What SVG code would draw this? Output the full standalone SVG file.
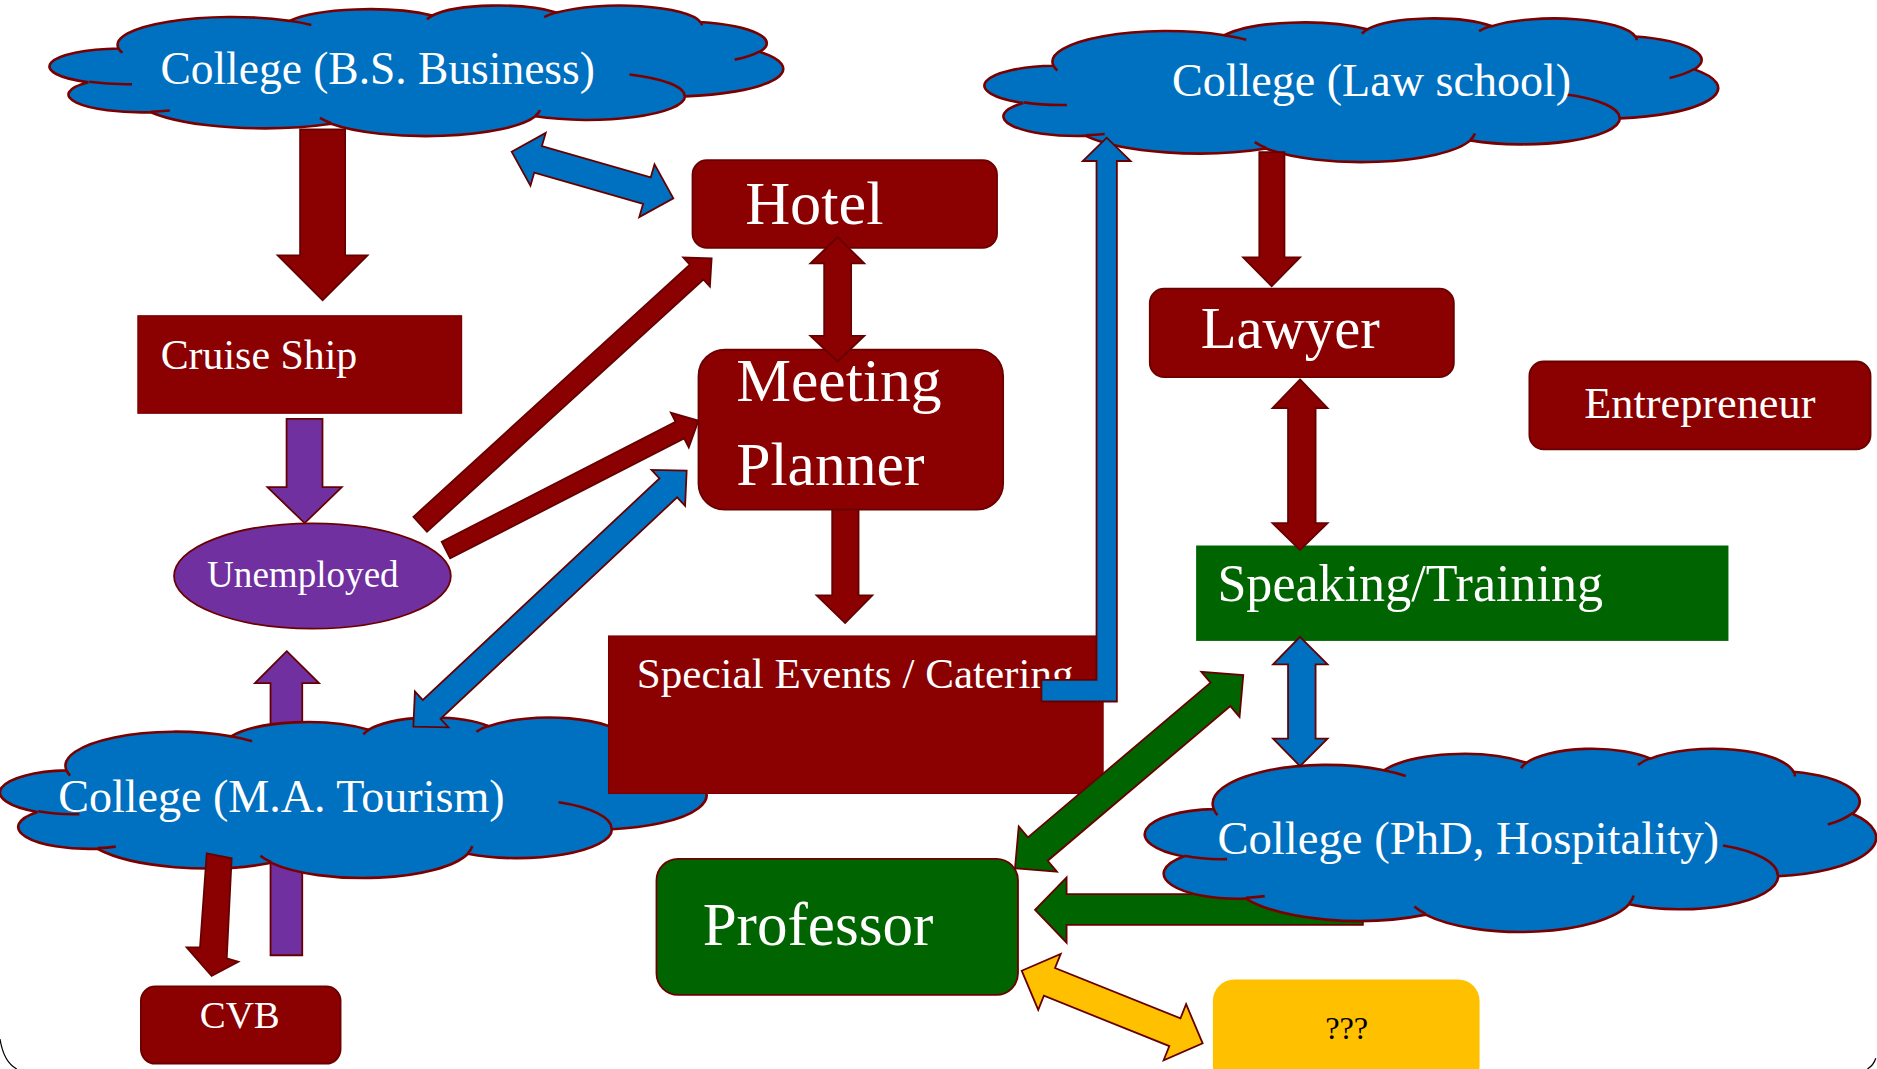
<svg xmlns="http://www.w3.org/2000/svg" width="1877" height="1069" viewBox="0 0 1877 1069">
<style>
.dr{fill:#8B0000;stroke:#660000;stroke-width:1.5}
.bl{fill:#0070C0;stroke:#660000;stroke-width:1.5}
.pu{fill:#7030A0;stroke:#660000;stroke-width:1.5}
.gr{fill:#006400;stroke:#660000;stroke-width:1.5}
.ye{fill:#FFC000;stroke:#660000;stroke-width:1.5}
.node{stroke:#6B0000;stroke-width:1.5}
.cloud{fill:#0070C0;stroke:#7A0000;stroke-width:2.6}
.cl{fill:none;stroke:#7A0000;stroke-width:2.6}
.t{font-family:"Liberation Serif","Times New Roman",serif;fill:#ffffff}
</style>
<defs>
<path id="cloudShape" vector-effect="non-scaling-stroke" d="M9.03,33.26 A15.63,21.27 0 0 1 32.42,12.04 A12.34,16.82 0 0 1 51.98,7.94 A10.10,13.76 0 0 1 69.06,5.73 A11.24,15.27 0 0 1 88.70,12.90 A12.34,16.84 0 0 1 96.80,35.78 A15.68,21.34 0 0 1 86.59,69.91 A13.39,18.21 0 0 1 66.10,85.21 A15.63,21.33 0 0 1 38.15,90.89 A17.87,24.41 0 0 1 13.44,82.11 A10.09,13.70 0 0 1 4.89,59.14 A10.06,13.76 0 0 1 9.03,33.26 Z"/>
<path id="cloudLines" vector-effect="non-scaling-stroke" d="M10.86,60.59 A10.06,13.76 0 0 1 5.00,58.75 M16.04,80.78 A10.09,13.70 0 0 1 13.47,81.67 M38.14,90.49 A15.63,21.33 0 0 1 36.60,86.45 M66.73,80.44 A15.63,21.33 0 0 1 66.11,84.86 M79.00,53.13 A13.39,18.21 0 0 1 86.53,69.65 M96.75,35.54 A12.34,16.84 0 0 1 93.40,41.74 M88.71,12.56 A11.24,15.27 0 0 1 88.89,15.48 M67.31,9.15 A11.24,15.27 0 0 1 69.03,5.42 M51.25,10.93 A10.10,13.76 0 0 1 52.08,7.71 M32.41,12.02 A15.63,21.27 0 0 1 35.42,15.14 M9.55,36.55 A15.63,21.27 0 0 1 9.03,33.27"/>
</defs>
<rect x="0" y="0" width="1877" height="1069" fill="#ffffff"/>
<g transform="scale(1.19707)">
<path d="M0,868 Q3,887 14,893" fill="none" stroke="#000" stroke-width="1"/>
<path d="M1560,893 Q1565,890 1567,884" fill="none" stroke="#000" stroke-width="1"/>

<g id="connectors-back">
<path class="pu" d="M239.5,544 L266.5,570.6 L252.5,570.6 L252.5,798 L226,798 L226,570.6 L213,570.6 Z"/>
<path class="gr" d="M864.6,760 L891,733 L891,747 L1138.5,747 L1138.5,772.7 L891,772.7 L891,787.5 Z"/>
</g>

<g id="college-bs">
<g transform="translate(44,4.3) scale(6.10,1.09)">
<use href="#cloudShape" class="cloud"/>
<use href="#cloudLines" class="cl"/>
</g>
<text class="t" x="134" y="70.5" font-size="38">College (B.S. Business)</text>
</g>

<g id="college-law">
<g transform="translate(825,15) scale(6.10,1.20)">
<use href="#cloudShape" class="cloud"/>
<use href="#cloudLines" class="cl"/>
</g>
<text class="t" x="979" y="80.5" font-size="38.5">College (Law school)</text>
</g>

<g id="college-ma">
<g transform="translate(2.5,599) scale(5.875,1.34)">
<use href="#cloudShape" class="cloud"/>
<use href="#cloudLines" class="cl"/>
</g>
<text class="t" x="48.6" y="678.6" font-size="38.5">College (M.A. Tourism)</text>
</g>

<g id="college-phd">
<g transform="translate(959,625) scale(6.08,1.53)">
<use href="#cloudShape" class="cloud"/>
<use href="#cloudLines" class="cl"/>
</g>
<text class="t" x="1017" y="713" font-size="39">College (PhD, Hospitality)</text>
</g>

<g id="hotel">
<rect class="node" x="578.5" y="133.8" width="254.4" height="73.3" rx="12" fill="#8B0000"/>
<text class="t" x="622.5" y="187" font-size="52">Hotel</text>
</g>

<g id="cruise-ship">
<rect x="115.2" y="263.8" width="270.4" height="81.4" fill="#8B0000" stroke="#7A0000" stroke-width="1"/>
<text class="t" x="134.2" y="308.4" font-size="35">Cruise Ship</text>
</g>

<g id="meeting-planner">
<rect class="node" x="583.5" y="292" width="254.5" height="133.8" rx="22" fill="#8B0000"/>
<text class="t" x="615" y="335" font-size="51.5">Meeting</text>
<text class="t" x="615" y="405" font-size="51.5">Planner</text>
</g>

<g id="unemployed">
<ellipse class="node" cx="261" cy="481.2" rx="115.6" ry="44" fill="#7030A0"/>
<text class="t" x="253" y="490" font-size="31" text-anchor="middle">Unemployed</text>
</g>

<g id="special-events">
<rect x="508.4" y="531.3" width="413.1" height="131.5" fill="#8B0000" stroke="#7A0000" stroke-width="1"/>
<text class="t" x="532" y="575" font-size="36">Special Events / Catering</text>
</g>

<g id="lawyer">
<rect class="node" x="960.5" y="241.1" width="254" height="73.9" rx="12" fill="#8B0000"/>
<text class="t" x="1003" y="290.5" font-size="49">Lawyer</text>
</g>

<g id="entrepreneur">
<rect class="node" x="1277.6" y="302" width="285" height="73.4" rx="12" fill="#8B0000"/>
<text class="t" x="1420" y="349.5" font-size="37" text-anchor="middle">Entrepreneur</text>
</g>

<g id="speaking-training">
<rect x="999.2" y="455.7" width="444.7" height="79.7" fill="#006400"/>
<text class="t" x="1017" y="501.7" font-size="43.5">Speaking/Training</text>
</g>

<g id="professor">
<rect class="node" x="548.4" y="717.5" width="302" height="113.6" rx="18" fill="#006400"/>
<text class="t" x="587" y="789.5" font-size="51">Professor</text>
</g>

<g id="cvb">
<rect class="node" x="117.7" y="824" width="166.8" height="64.6" rx="12" fill="#8B0000"/>
<text class="t" x="200.3" y="859" font-size="32.5" text-anchor="middle">CVB</text>
</g>

<g id="unknown">
<rect x="1013.2" y="818.2" width="222.8" height="90" rx="18" fill="#FFC000"/>
<text x="1125" y="868" font-size="27" text-anchor="middle" font-family="Liberation Serif, Times New Roman, serif" fill="#000000">???</text>
</g>

<g id="connectors">
<path class="dr" d="M250.7,108 L288.3,108 L288.3,213.3 L307,213.3 L269.5,250.8 L232,213.3 L250.7,213.3 Z"/>
<path class="bl" transform="translate(427.4,126.7) rotate(16.1)" d="M0,0 L23,-23 L23,-11.5 L117.6,-11.5 L117.6,-23 L140.6,0 L117.6,23 L117.6,11.5 L23,11.5 L23,23 Z"/>
<path class="dr" d="M699.7,198 L722,220 L711,220 L711,280.5 L722,280.5 L699.7,302 L677,280.5 L688.5,280.5 L688.5,220 L677,220 Z"/>
<path class="pu" d="M239.4,350 L269.4,350 L269.4,407 L285.5,407 L254.5,437 L223.4,407 L239.4,407 Z"/>
<path class="dr" transform="translate(351,438) rotate(-42.38)" d="M0,-8.4 L312.6,-8.4 L312.6,-16.5 L329.6,0 L312.6,16.5 L312.6,8.4 L0,8.4 Z"/>
<path class="dr" transform="translate(372.5,459.5) rotate(-27.14)" d="M0,-7.8 L219.6,-7.8 L219.6,-16.4 L237,0 L219.6,16.4 L219.6,7.8 L0,7.8 Z"/>
<path class="bl" transform="translate(345.3,607) rotate(-43.12)" d="M0,0 L21,-20.5 L21,-10.8 L291.8,-10.8 L291.8,-20.5 L312.8,0 L291.8,20.5 L291.8,10.8 L21,10.8 L21,20.5 Z"/>
<path class="dr" d="M695.2,425.8 L717.2,425.8 L717.2,497.4 L728.7,497.4 L706,520.5 L682.2,497.4 L695.2,497.4 Z"/>
<path class="bl" d="M870,568 L916,568 L916,134.5 L904.5,134.5 L924.5,115 L944.5,134.5 L933,134.5 L933,586 L870,586 Z"/>
<path class="dr" d="M1052,127 L1073,127 L1073,215 L1086,215 L1062.3,239 L1038.5,215 L1052,215 Z"/>
<path class="dr" d="M1086,317 L1109,341 L1099,341 L1099,437 L1109,437 L1086,459.5 L1063,437 L1076,437 L1076,341 L1063,341 Z"/>
<path class="bl" d="M1086,532 L1109,555 L1099,555 L1099,617 L1109,617 L1086,640 L1063.5,617 L1076,617 L1076,555 L1063.5,555 Z"/>
<path class="gr" transform="translate(847.9,725.4) rotate(-40.26)" d="M0,0 L25,-24.7 L25,-12.8 L224.9,-12.8 L224.9,-24.7 L249.9,0 L224.9,24.7 L224.9,12.8 L25,12.8 L25,24.7 Z"/>
<path class="ye" transform="translate(853.5,810.9) rotate(21.88)" d="M0,0 L25,-25.2 L25,-12.5 L137.9,-12.5 L137.9,-25.2 L162.9,0 L137.9,25.2 L137.9,12.5 L25,12.5 L25,25.2 Z"/>
<path class="dr" d="M172.7,712.8 L193.5,717 L189.4,800.6 L199.1,803.4 L176.8,815.3 L155.9,791.4 L167.1,791.4 Z"/>
</g>
</g>
</svg>
